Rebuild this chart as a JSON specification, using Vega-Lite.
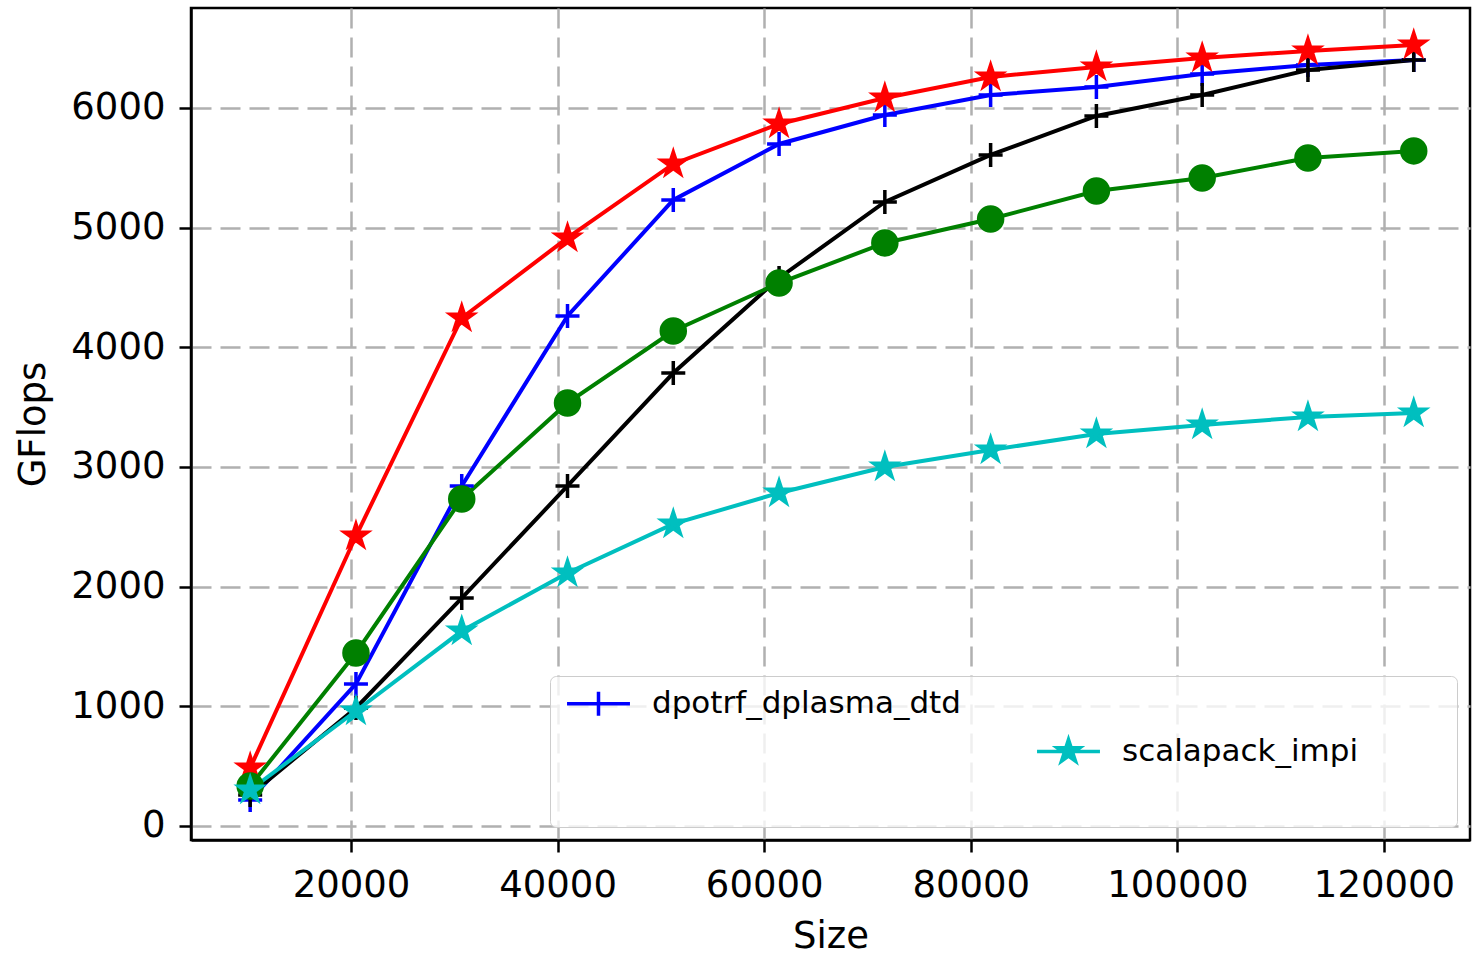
{
  "$schema": "https://vega.github.io/schema/vega-lite/v6.json",
  "width": 1279,
  "height": 832,
  "autosize": {"type": "none"},
  "padding": {"left": 191, "top": 8, "right": 3, "bottom": 114},
  "background": "white",
  "config": {
    "font": "DejaVu Sans",
    "view": {"stroke": "black", "strokeWidth": 2.5},
    "axis": {
      "labelFontSize": 37,
      "titleFontSize": 37,
      "titleFontWeight": "normal",
      "labelColor": "black",
      "titleColor": "black",
      "tickColor": "black",
      "tickWidth": 2.5,
      "tickSize": 12,
      "domainColor": "black",
      "domainWidth": 2.5,
      "gridColor": "#b0b0b0",
      "gridWidth": 2.5,
      "gridDash": [20, 9],
      "labelFlush": false,
      "format": "d"
    }
  },
  "data": {
    "values": [
      {"size": 10240, "gflops": 217, "series": "dpotrf_dplasma_dtd"},
      {"size": 20480, "gflops": 1187, "series": "dpotrf_dplasma_dtd"},
      {"size": 30720, "gflops": 2841, "series": "dpotrf_dplasma_dtd"},
      {"size": 40960, "gflops": 4262, "series": "dpotrf_dplasma_dtd"},
      {"size": 51200, "gflops": 5231, "series": "dpotrf_dplasma_dtd"},
      {"size": 61440, "gflops": 5699, "series": "dpotrf_dplasma_dtd"},
      {"size": 71680, "gflops": 5941, "series": "dpotrf_dplasma_dtd"},
      {"size": 81920, "gflops": 6108, "series": "dpotrf_dplasma_dtd"},
      {"size": 92160, "gflops": 6175, "series": "dpotrf_dplasma_dtd"},
      {"size": 102400, "gflops": 6284, "series": "dpotrf_dplasma_dtd"},
      {"size": 112640, "gflops": 6359, "series": "dpotrf_dplasma_dtd"},
      {"size": 122880, "gflops": 6401, "series": "dpotrf_dplasma_dtd"},
      {"size": 10240, "gflops": 259, "series": "series_2"},
      {"size": 20480, "gflops": 986, "series": "series_2"},
      {"size": 30720, "gflops": 1905, "series": "series_2"},
      {"size": 40960, "gflops": 2841, "series": "series_2"},
      {"size": 51200, "gflops": 3785, "series": "series_2"},
      {"size": 61440, "gflops": 4579, "series": "series_2"},
      {"size": 71680, "gflops": 5214, "series": "series_2"},
      {"size": 81920, "gflops": 5607, "series": "series_2"},
      {"size": 92160, "gflops": 5933, "series": "series_2"},
      {"size": 102400, "gflops": 6108, "series": "series_2"},
      {"size": 112640, "gflops": 6317, "series": "series_2"},
      {"size": 122880, "gflops": 6401, "series": "series_2"},
      {"size": 10240, "gflops": 485, "series": "series_3"},
      {"size": 20480, "gflops": 2423, "series": "series_3"},
      {"size": 30720, "gflops": 4245, "series": "series_3"},
      {"size": 40960, "gflops": 4914, "series": "series_3"},
      {"size": 51200, "gflops": 5532, "series": "series_3"},
      {"size": 61440, "gflops": 5866, "series": "series_3"},
      {"size": 71680, "gflops": 6083, "series": "series_3"},
      {"size": 81920, "gflops": 6259, "series": "series_3"},
      {"size": 92160, "gflops": 6342, "series": "series_3"},
      {"size": 102400, "gflops": 6418, "series": "series_3"},
      {"size": 112640, "gflops": 6476, "series": "series_3"},
      {"size": 122880, "gflops": 6526, "series": "series_3"},
      {"size": 10240, "gflops": 334, "series": "series_5"},
      {"size": 20480, "gflops": 1446, "series": "series_5"},
      {"size": 30720, "gflops": 2733, "series": "series_5"},
      {"size": 40960, "gflops": 3535, "series": "series_5"},
      {"size": 51200, "gflops": 4136, "series": "series_5"},
      {"size": 61440, "gflops": 4537, "series": "series_5"},
      {"size": 71680, "gflops": 4872, "series": "series_5"},
      {"size": 81920, "gflops": 5072, "series": "series_5"},
      {"size": 92160, "gflops": 5306, "series": "series_5"},
      {"size": 102400, "gflops": 5415, "series": "series_5"},
      {"size": 112640, "gflops": 5582, "series": "series_5"},
      {"size": 122880, "gflops": 5641, "series": "series_5"},
      {"size": 10240, "gflops": 301, "series": "scalapack_impi"},
      {"size": 20480, "gflops": 961, "series": "scalapack_impi"},
      {"size": 30720, "gflops": 1629, "series": "scalapack_impi"},
      {"size": 40960, "gflops": 2114, "series": "scalapack_impi"},
      {"size": 51200, "gflops": 2524, "series": "scalapack_impi"},
      {"size": 61440, "gflops": 2783, "series": "scalapack_impi"},
      {"size": 71680, "gflops": 3000, "series": "scalapack_impi"},
      {"size": 81920, "gflops": 3142, "series": "scalapack_impi"},
      {"size": 92160, "gflops": 3276, "series": "scalapack_impi"},
      {"size": 102400, "gflops": 3351, "series": "scalapack_impi"},
      {"size": 112640, "gflops": 3418, "series": "scalapack_impi"},
      {"size": 122880, "gflops": 3451, "series": "scalapack_impi"}
    ]
  },
  "encoding": {
    "x": {
      "field": "size",
      "type": "quantitative",
      "scale": {"domain": [4511, 128327], "nice": false, "zero": false},
      "axis": {"title": "Size", "values": [20000, 40000, 60000, 80000, 100000, 120000], "labelPadding": 15, "titlePadding": 15}
    },
    "y": {
      "field": "gflops",
      "type": "quantitative",
      "scale": {"domain": [-117, 6835], "nice": false, "zero": false},
      "axis": {"title": "GFlops", "values": [0, 1000, 2000, 3000, 4000, 5000, 6000], "labelPadding": 14, "titlePadding": 18}
    }
  },
  "layer": [
    {
      "mark": {"type": "line", "strokeWidth": 4},
      "encoding": {
        "stroke": {
          "field": "series",
          "type": "nominal",
          "scale": {
            "domain": ["dpotrf_dplasma_dtd", "series_2", "series_3", "series_5", "scalapack_impi"],
            "range": ["#0000ff", "#000000", "#ff0000", "#008000", "#00bfbf"]
          }
        }
      }
    },
    {
      "mark": {"type": "point", "filled": true, "size": 576, "strokeWidth": 3.5, "opacity": 1},
      "encoding": {
        "fill": {
          "field": "series",
          "type": "nominal",
          "scale": {
            "domain": ["dpotrf_dplasma_dtd", "series_2", "series_3", "series_5", "scalapack_impi"],
            "range": ["#0000ff", "#000000", "#ff0000", "#008000", "#00bfbf"]
          },
          "legend": {
            "orient": "none",
            "direction": "vertical",
            "legendX": 359,
            "legendY": 668,
            "title": "\u00a0",
            "titleOrient": "right",
            "titlePadding": 87,
            "titleFontSize": 10,
            "columns": 2,
            "gridAlign": "all",
            "columnPadding": 69,
            "rowPadding": 9,
            "padding": 12,
            "labelFontSize": 31,
            "labelFont": "DejaVu Sans",
            "labelColor": "black",
            "labelLimit": 600,
            "labelOffset": 38,
            "symbolSize": 676,
            "symbolOffset": 21,
            "symbolStrokeWidth": 3.5,
            "strokeColor": "#cccccc",
            "fillColor": "rgba(255,255,255,0.8)",
            "cornerRadius": 6,
            "labelExpr": "datum.value == 'dpotrf_dplasma_dtd' || datum.value == 'scalapack_impi' ? datum.value : ''",
            "encoding": {
              "symbols": {
                "shape": {"value": {"expr": "datum.value == 'scalapack_impi' ? 'M-2.42,0L2.42,0M0,-0.923L0.2073,-0.2853L0.878,-0.2853L0.3353,0.109L0.543,0.747L0,0.3526L-0.543,0.747L-0.3353,0.109L-0.878,-0.2853L-0.2073,-0.2853Z' : 'M-2.42,0L2.42,0M0,-0.92L0,0.92'"}},
                "stroke": {"value": {"expr": "scale('fill', datum.value)"}},
                "opacity": {"value": {"expr": "datum.value == 'dpotrf_dplasma_dtd' || datum.value == 'scalapack_impi' ? 1 : 0"}}
              }
            }
          }
        },
        "stroke": {
          "field": "series",
          "type": "nominal"
        },
        "shape": {
          "field": "series",
          "type": "nominal",
          "scale": {
            "domain": ["series_5", "dpotrf_dplasma_dtd", "series_2", "series_3", "scalapack_impi"],
            "range": [
              "circle",
              "M-1,0L1,0M0,-1L0,1",
              "M-1,0L1,0M0,-1L0,1",
              "M0,-1L0.2245,-0.309L0.951,-0.309L0.363,0.118L0.588,0.809L0,0.382L-0.588,0.809L-0.363,0.118L-0.951,-0.309L-0.2245,-0.309Z",
              "M0,-1L0.2245,-0.309L0.951,-0.309L0.363,0.118L0.588,0.809L0,0.382L-0.588,0.809L-0.363,0.118L-0.951,-0.309L-0.2245,-0.309Z"
            ]
          },
          "legend": null
        }
      }
    }
  ]
}
